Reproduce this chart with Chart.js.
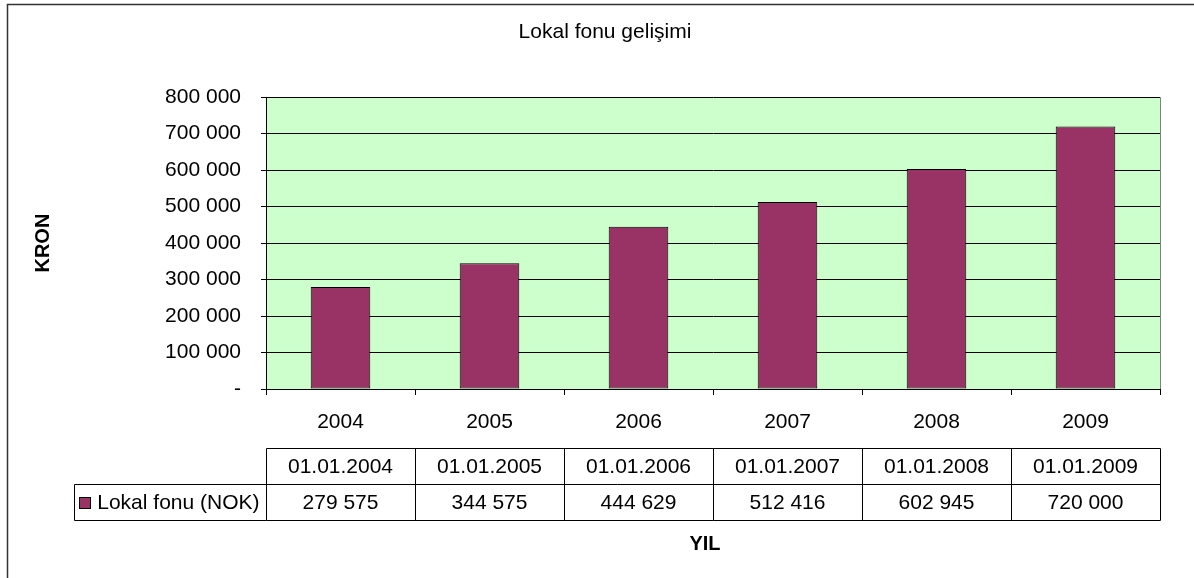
<!DOCTYPE html>
<html>
<head>
<meta charset="utf-8">
<script src="https://cdn.jsdelivr.net/npm/chart.js@4"></script>
<style>
  html, body { margin: 0; padding: 0; background: #fff; }
  #wrap { width: 1194px; height: 578px; }
</style>
</head>
<body>
<div id="wrap"><canvas id="fund-chart" width="1194" height="578"></canvas></div>
<script>
const years = ["2004", "2005", "2006", "2007", "2008", "2009"];
const dates = ["01.01.2004", "01.01.2005", "01.01.2006", "01.01.2007", "01.01.2008", "01.01.2009"];
const fundValues = [279575, 344575, 444629, 512416, 602945, 720000];
const seriesName = "Lokal fonu (NOK)";
const yMax = 800000;
const yStep = 100000;

const FONT = "'Liberation Sans', Arial, sans-serif";
const BAR_COLOR = "#993366";

function fmt(v) {
	if (v === 0) return "-";
	return String(v).replace(/\B(?=(\d{3})+(?!\d))/g, " ");
}

// plot background, right border, data table, axis titles, outer frame
const extras = {
	id: "extras",
	beforeDraw(chart) {
		const { ctx, chartArea: a } = chart;
		ctx.save();
		ctx.fillStyle = "#ccffcc";
		ctx.fillRect(a.left, a.top, a.right - a.left, a.bottom - a.top);
		ctx.restore();
	},
	beforeDatasetsDraw(chart) {
		const { ctx, chartArea: a } = chart;
		ctx.save();
		ctx.strokeStyle = "#808080";
		ctx.lineWidth = 1;
		ctx.beginPath();
		ctx.moveTo(Math.round(a.right) + 0.5, a.top);
		ctx.lineTo(Math.round(a.right) + 0.5, a.bottom);
		ctx.stroke();
		ctx.restore();
	},
	afterDraw(chart) {
		const { ctx, chartArea: a } = chart;
		const x = chart.scales.x;
		const half = (x.getPixelForValue(1) - x.getPixelForValue(0)) / 2;
		const r0 = 448.5, r1 = 484.5, r2 = 520.5;
		ctx.save();
		ctx.strokeStyle = "#000";
		ctx.lineWidth = 1;
		ctx.fillStyle = "#000";
		ctx.font = "21px " + FONT;
		ctx.textAlign = "center";
		ctx.textBaseline = "middle";

		const left = Math.round(a.left) + 0.5;
		const right = Math.round(a.right) + 0.5;
		ctx.beginPath();
		ctx.moveTo(left, r0); ctx.lineTo(right, r0);
		ctx.moveTo(left, r2); ctx.lineTo(right, r2);
		for (let i = 0; i < years.length; i++) {
			const cx = x.getPixelForValue(i);
			const xl = Math.round(cx - half) + 0.5;
			ctx.moveTo(xl, r0); ctx.lineTo(xl, r2);
			ctx.fillText(dates[i], cx, (r0 + r1) / 2 + 1);
			ctx.fillText(fmt(fundValues[i]), cx, (r1 + r2) / 2 + 1);
		}
		ctx.moveTo(right, r0); ctx.lineTo(right, r2);

		// legend cell
		const tw = ctx.measureText(seriesName).width;
		const textEnd = left - 7;
		const textStart = textEnd - tw;
		const sw = 12;
		const swX = Math.round(textStart - 6 - sw);
		const cellLeft = swX - 5 + 0.5;
		ctx.moveTo(cellLeft, r1); ctx.lineTo(right, r1);
		ctx.moveTo(cellLeft, r1); ctx.lineTo(cellLeft, r2); ctx.lineTo(left, r2);
		ctx.stroke();
		ctx.textAlign = "left";
		ctx.fillText(seriesName, textStart, (r1 + r2) / 2 + 1);
		ctx.fillStyle = BAR_COLOR;
		ctx.fillRect(swX, 497, sw, sw);
		ctx.strokeRect(swX + 0.5, 497.5, sw - 1, sw - 1);

		// axis titles
		ctx.fillStyle = "#000";
		ctx.font = "bold 20px " + FONT;
		ctx.textAlign = "center";
		ctx.fillText("YIL", 705, 544);
		ctx.translate(43, (a.top + a.bottom) / 2);
		ctx.rotate(-Math.PI / 2);
		ctx.fillText("KRON", 0, 0);
		ctx.setTransform(1, 0, 0, 1, 0, 0);

		// outer frame
		ctx.strokeStyle = "#333";
		ctx.lineWidth = 1.5;
		ctx.strokeRect(7.5, 4.5, 1300, 700);
		ctx.restore();
	}
};

new Chart(document.getElementById("fund-chart").getContext("2d"), {
	type: "bar",
	data: {
		labels: years,
		datasets: [
			{
				label: seriesName,
				data: fundValues,
				backgroundColor: BAR_COLOR,
				borderColor: "#000",
				borderWidth: 1,
				borderSkipped: false,
				barPercentage: 0.4,
				categoryPercentage: 1,
			},
		],
	},
	options: {
		responsive: false,
		animation: false,
		layout: { padding: { left: 50, right: 34, top: 0, bottom: 0 } },
		plugins: {
			legend: { display: false },
			tooltip: { enabled: false },
			title: {
				display: true,
				text: "Lokal fonu gelişimi",
				color: "#000",
				font: { family: FONT, size: 21, weight: "normal", lineHeight: 1.2 },
				padding: { top: 20, bottom: 52 },
			},
		},
		scales: {
			x: {
				grid: {
					offset: true,
					drawOnChartArea: false,
					tickLength: 6,
					color: "#000",
				},
				border: { color: "#000", width: 1 },
				ticks: {
					color: "#000",
					padding: 15,
					font: { family: FONT, size: 21 },
				},
				afterFit(scale) { scale.height = 189; },
			},
			y: {
				min: 0,
				max: yMax,
				grid: { color: "#000", tickLength: 5 },
				border: { color: "#000", width: 1 },
				ticks: {
					stepSize: yStep,
					color: "#000",
					padding: 20,
					font: { family: FONT, size: 21 },
					callback: (v) => fmt(v),
				},
				afterFit(scale) { scale.width = 216; },
			},
		},
	},
	plugins: [extras],
});
</script>
</body>
</html>
